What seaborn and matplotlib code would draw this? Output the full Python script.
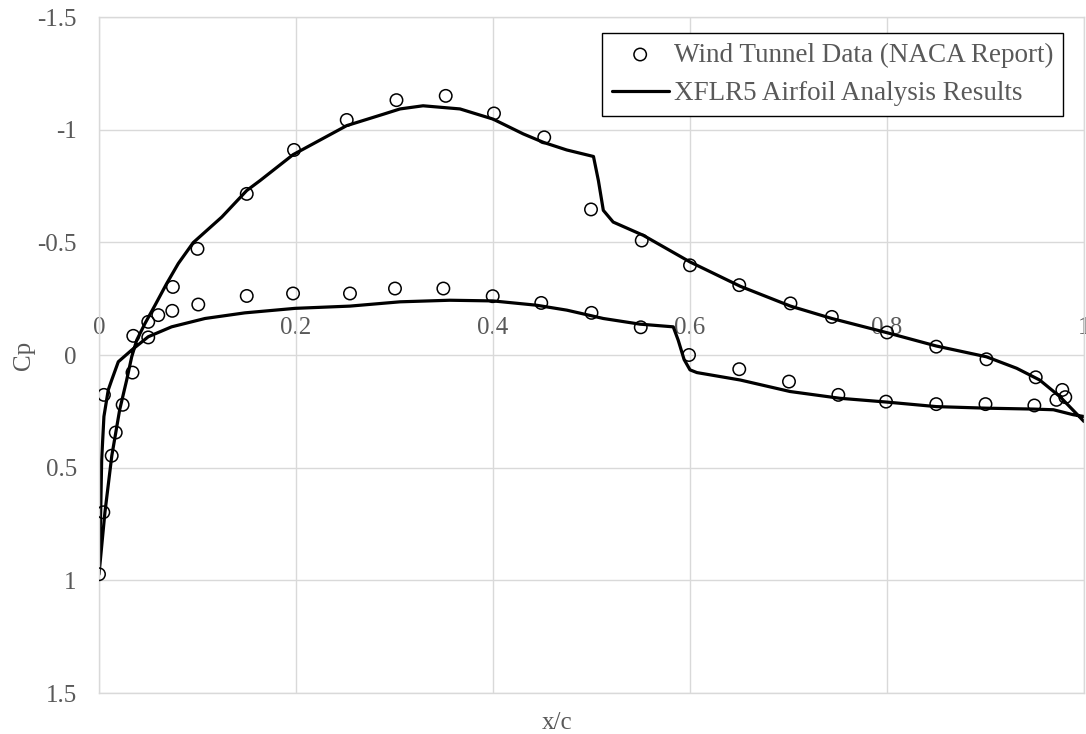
import numpy as np
import pandas as pd
import matplotlib
matplotlib.use("Agg")
import matplotlib.pyplot as plt
import seaborn as sns

# Wind tunnel pressure taps (upper surface first, then lower surface)
exp_x = [0.0, 0.0044, 0.0129, 0.017, 0.024, 0.034, 0.050, 0.075, 0.100, 0.150,
         0.198, 0.2515, 0.302, 0.352, 0.401, 0.452, 0.4995, 0.551, 0.600, 0.650,
         0.702, 0.744, 0.800, 0.850, 0.901, 0.951, 0.978,
         0.005, 0.0348, 0.050, 0.0602, 0.0744, 0.1008, 0.150, 0.197, 0.2548, 0.3005,
         0.3496, 0.3997, 0.449, 0.500, 0.550, 0.599, 0.650, 0.7005, 0.7506, 0.799,
         0.850, 0.900, 0.9496, 0.972, 0.981]
exp_cp = [0.973, 0.698, 0.447, 0.344, 0.221, 0.078, -0.147, -0.302, -0.471, -0.715,
          -0.910, -1.043, -1.131, -1.150, -1.072, -0.966, -0.646, -0.508, -0.398, -0.310,
          -0.229, -0.169, -0.100, -0.037, 0.019, 0.099, 0.155,
          0.177, -0.085, -0.078, -0.177, -0.196, -0.224, -0.262, -0.273, -0.273, -0.295,
          -0.295, -0.261, -0.231, -0.187, -0.123, 0.0, 0.063, 0.118, 0.177, 0.207,
          0.218, 0.218, 0.224, 0.199, 0.187]

# XFLR5 result, upper surface TE -> LE, then lower surface LE -> TE
xflr_x = [1.000, 0.9756, 0.955, 0.9317, 0.901, 0.850, 0.800, 0.744, 0.702, 0.651,
          0.600, 0.5526, 0.522, 0.512, 0.507, 0.502, 0.4748, 0.451, 0.4308, 0.400,
          0.3665, 0.329, 0.3056, 0.289, 0.2515, 0.197, 0.1635, 0.150, 0.1246, 0.0957,
          0.0805, 0.0687, 0.0569, 0.0467, 0.0383, 0.0332, 0.0281, 0.021, 0.013, 0.006,
          0.0,
          0.0017, 0.0027, 0.005, 0.0094, 0.0129, 0.0196, 0.0332, 0.050, 0.0737, 0.1076,
          0.148, 0.199, 0.2548, 0.3056, 0.356, 0.400, 0.444, 0.475, 0.512, 0.549,
          0.583, 0.588, 0.594, 0.600, 0.607, 0.651, 0.7015, 0.752, 0.800, 0.850,
          0.901, 0.9485, 0.969, 0.989, 1.000]
xflr_cp = [0.295, 0.185, 0.111, 0.059, 0.008, -0.040, -0.099, -0.162, -0.217, -0.305,
           -0.413, -0.531, -0.590, -0.642, -0.774, -0.881, -0.910, -0.944, -0.981, -1.047,
           -1.092, -1.106, -1.092, -1.069, -1.018, -0.889, -0.774, -0.730, -0.612, -0.499,
           -0.406, -0.317, -0.221, -0.140, -0.066, 0.008, 0.111, 0.243, 0.447, 0.699,
           0.973,
           0.700, 0.465, 0.273, 0.155, 0.111, 0.030, -0.022, -0.081, -0.125, -0.162,
           -0.187, -0.207, -0.217, -0.236, -0.243, -0.240, -0.221, -0.199, -0.162, -0.137,
           -0.125, -0.066, 0.020, 0.066, 0.078, 0.111, 0.162, 0.192, 0.209, 0.229,
           0.236, 0.240, 0.243, 0.265, 0.273]

x_ticks = [0, 0.2, 0.4, 0.6, 0.8, 1]
x_tick_labels = ['0', '0.2', '0.4', '0.6', '0.8', '1']
y_ticks = [-1.5, -1, -0.5, 0, 0.5, 1, 1.5]
y_tick_labels = ['-1.5', '-1', '-0.5', '0', '0.5', '1', '1.5']

sns.set_theme(style="white")
plt.rcParams['font.family'] = ['Liberation Serif', 'DejaVu Serif']
text_gray = '#595959'
grid_gray = '#d9d9d9'

fig = plt.figure(figsize=(10.86, 7.34), dpi=100)
ax = fig.add_axes([99 / 1086, 1 - 693 / 734, 985 / 1086, 676 / 734])

sns.scatterplot(x=exp_x, y=exp_cp, ax=ax, marker='o', s=80, facecolors='none',
                edgecolor='black', linewidth=1.1, label='Wind Tunnel Data (NACA Report)', zorder=3)
sns.lineplot(x=xflr_x, y=xflr_cp, ax=ax, sort=False, estimator=None, color='black',
             linewidth=2.3, label='XFLR5 Airfoil Analysis Results', zorder=2,
             solid_joinstyle='round', solid_capstyle='round')

ax.set_xlim(0, 1)
ax.set_ylim(1.5, -1.5)
ax.set_xticks(x_ticks)
ax.set_yticks(y_ticks)
ax.set_yticklabels(y_tick_labels)
ax.grid(True, color=grid_gray, linewidth=1.0)
for sp in ax.spines.values():
    sp.set_color(grid_gray)
    sp.set_linewidth(1.0)
ax.tick_params(axis='x', length=0, labelbottom=False)
ax.tick_params(axis='y', length=0, pad=16, labelsize=18, labelcolor=text_gray)

# x tick labels sit on the Cp = 0 line (middle of the axes)
secax = ax.secondary_xaxis(0.5)
secax.set_xticks(x_ticks)
secax.set_xticklabels(x_tick_labels)
secax.tick_params(axis='x', length=0, pad=11.5, labelsize=18, labelcolor=text_gray)
for sp in secax.spines.values():
    sp.set_visible(False)

ax.set_xlabel('x/c', fontsize=18, color=text_gray)
ax.xaxis.set_label_coords((557 - 99) / 985, (693 - 712) / 676)
ax.set_ylabel('Cp', fontsize=18, color=text_gray)
ax.yaxis.set_label_coords(-0.065, 0.5)

leg = ax.legend(loc='upper right', bbox_to_anchor=((1063 - 99) / 985, (693 - 33) / 676),
                fontsize=19.5, frameon=True, fancybox=False, edgecolor='black', framealpha=1,
                borderpad=0.35, handlelength=2.1, handletextpad=0.2, labelspacing=0.5,
                borderaxespad=0)
leg.get_frame().set_linewidth(1.0)
for t in leg.get_texts():
    t.set_color(text_gray)

fig.savefig('out.png', dpi=100)
